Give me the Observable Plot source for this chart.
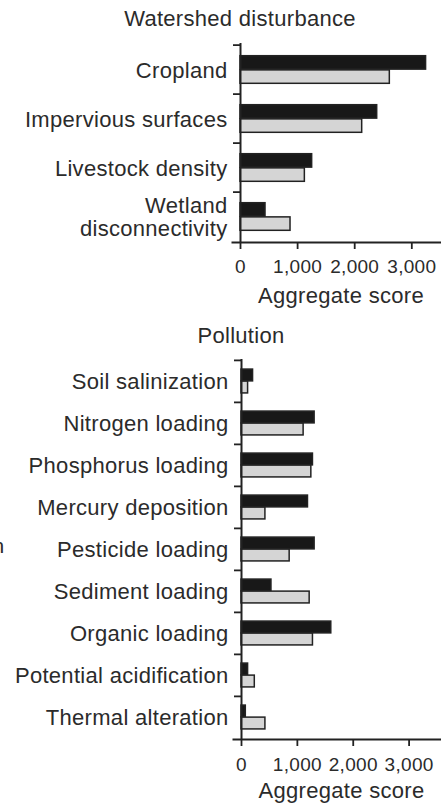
<!DOCTYPE html>
<html>
<head>
<meta charset="utf-8">
<script src="https://cdn.jsdelivr.net/npm/d3@7"></script>
<script src="https://cdn.jsdelivr.net/npm/@observablehq/plot@0.6"></script>
<style>
  body { margin: 0; background: #fff; font-family: "Liberation Sans", Arial, sans-serif; color: #2b2b2b; }
  #wrap { position: relative; width: 441px; height: 804px; overflow: hidden; background: #fff; }
  .panel { position: absolute; left: 0; }
  .title { position: absolute; transform: translateX(-50%); font-size: 22px; line-height: 22px; letter-spacing: 0.3px; white-space: nowrap; }
  #frag { position: absolute; left: -7.5px; top: 535px; font-size: 21px; line-height: 21px; }
</style>
</head>
<body>
<div id="wrap">
  <div class="panel" id="p1" style="top:0px"></div>
  <div class="panel" id="p2" style="top:310px"></div>
  <div class="title" style="left:240px; top:8px">Watershed disturbance</div>
  <div class="title" style="left:241px; top:325px">Pollution</div>
  <div id="frag">n</div>
</div>
<script>
// Series (black = first, grey = second)
const seriesNames = ["Human water security", "Biodiversity"];
const seriesColors = ["#181818", "#d5d5d5"];

// Watershed disturbance panel
const disturbanceCats = ["Cropland", "Impervious surfaces", "Livestock density", "Wetland disconnectivity"];
const disturbanceBlack = [3250, 2394, 1255, 438];
const disturbanceGrey = [2615, 2131, 1127, 876];

// Pollution panel
const pollutionCats = ["Soil salinization", "Nitrogen loading", "Phosphorus loading", "Mercury deposition",
  "Pesticide loading", "Sediment loading", "Organic loading", "Potential acidification", "Thermal alteration"];
const pollutionBlack = [207, 1309, 1279, 1190, 1309, 536, 1607, 118, 77];
const pollutionGrey = [118, 1112, 1250, 428, 862, 1220, 1279, 238, 428];

const xTicks = [0, 1000, 2000, 3000];
const xLabel = "Aggregate score";

function panel({cats, black, grey, height, marginTop, marginBottom, marginLeft, xMax, tickPad, labelDy}) {
  const bw = (height - marginTop - marginBottom) / cats.length;
  const fillFrac = 0.57;
  const pad = bw * (1 - fillFrac) / 2;
  const half = bw * fillFrac / 2;
  const rows = cats.flatMap((c, i) => [
    {category: c, series: seriesNames[0], value: black[i]},
    {category: c, series: seriesNames[1], value: grey[i]}
  ]);
  const ink = "#222";
  return Plot.plot({
    width: 441, height, marginTop, marginBottom, marginLeft, marginRight: 0,
    style: {fontFamily: "'Liberation Sans', Arial, sans-serif", fontSize: "22px", letterSpacing: "0.3px", color: "#2b2b2b", background: "transparent", overflow: "visible"},
    x: {domain: [0, xMax]},
    y: {domain: cats, padding: 0},
    color: {domain: seriesNames, range: seriesColors},
    marks: [
      Plot.barX(rows.filter(d => d.series === seriesNames[0]), {x: "value", y: "category", fill: "series", stroke: ink, strokeWidth: 1.5, insetTop: pad, insetBottom: pad + half}),
      Plot.barX(rows.filter(d => d.series === seriesNames[1]), {x: "value", y: "category", fill: "series", stroke: ink, strokeWidth: 1.5, insetTop: pad + half, insetBottom: pad}),
      Plot.ruleX([0], {stroke: ink, strokeWidth: 2}),
      Plot.frame({anchor: "bottom", stroke: ink, strokeWidth: 2, insetLeft: -8}),
      Plot.axisY({tickSize: 7, dy: -bw / 2, text: null, label: null, stroke: ink, strokeWidth: 1.8}),
      Plot.axisY({tickSize: 0, tickPadding: 13, fontSize: 22, lineHeight: 1.08, fill: "#2b2b2b",
        tickFormat: d => d.replace("Wetland ", "Wetland\n"), label: null}),
      Plot.axisX({ticks: xTicks, tickSize: 7, tickPadding: tickPad, tickFormat: d3.format(","), fontSize: 19,
        fill: "#2b2b2b", stroke: ink, strokeWidth: 1.8, label: null, style: {letterSpacing: "1.2px"}}),
      Plot.text([xLabel], {text: d => d, frameAnchor: "bottom", dy: labelDy, lineAnchor: "top", fontSize: 22, fill: "#2b2b2b"})
    ]
  });
}

document.getElementById("p1").appendChild(panel({
  cats: disturbanceCats, black: disturbanceBlack, grey: disturbanceGrey,
  height: 310, marginTop: 43, marginBottom: 68, marginLeft: 240, xMax: 3520, tickPad: 9.6, labelDy: 45
}));
document.getElementById("p2").appendChild(panel({
  cats: pollutionCats, black: pollutionBlack, grey: pollutionGrey,
  height: 494, marginTop: 49, marginBottom: 65, marginLeft: 241, xMax: 3580, tickPad: 11, labelDy: 43
}));
</script>
</body>
</html>
